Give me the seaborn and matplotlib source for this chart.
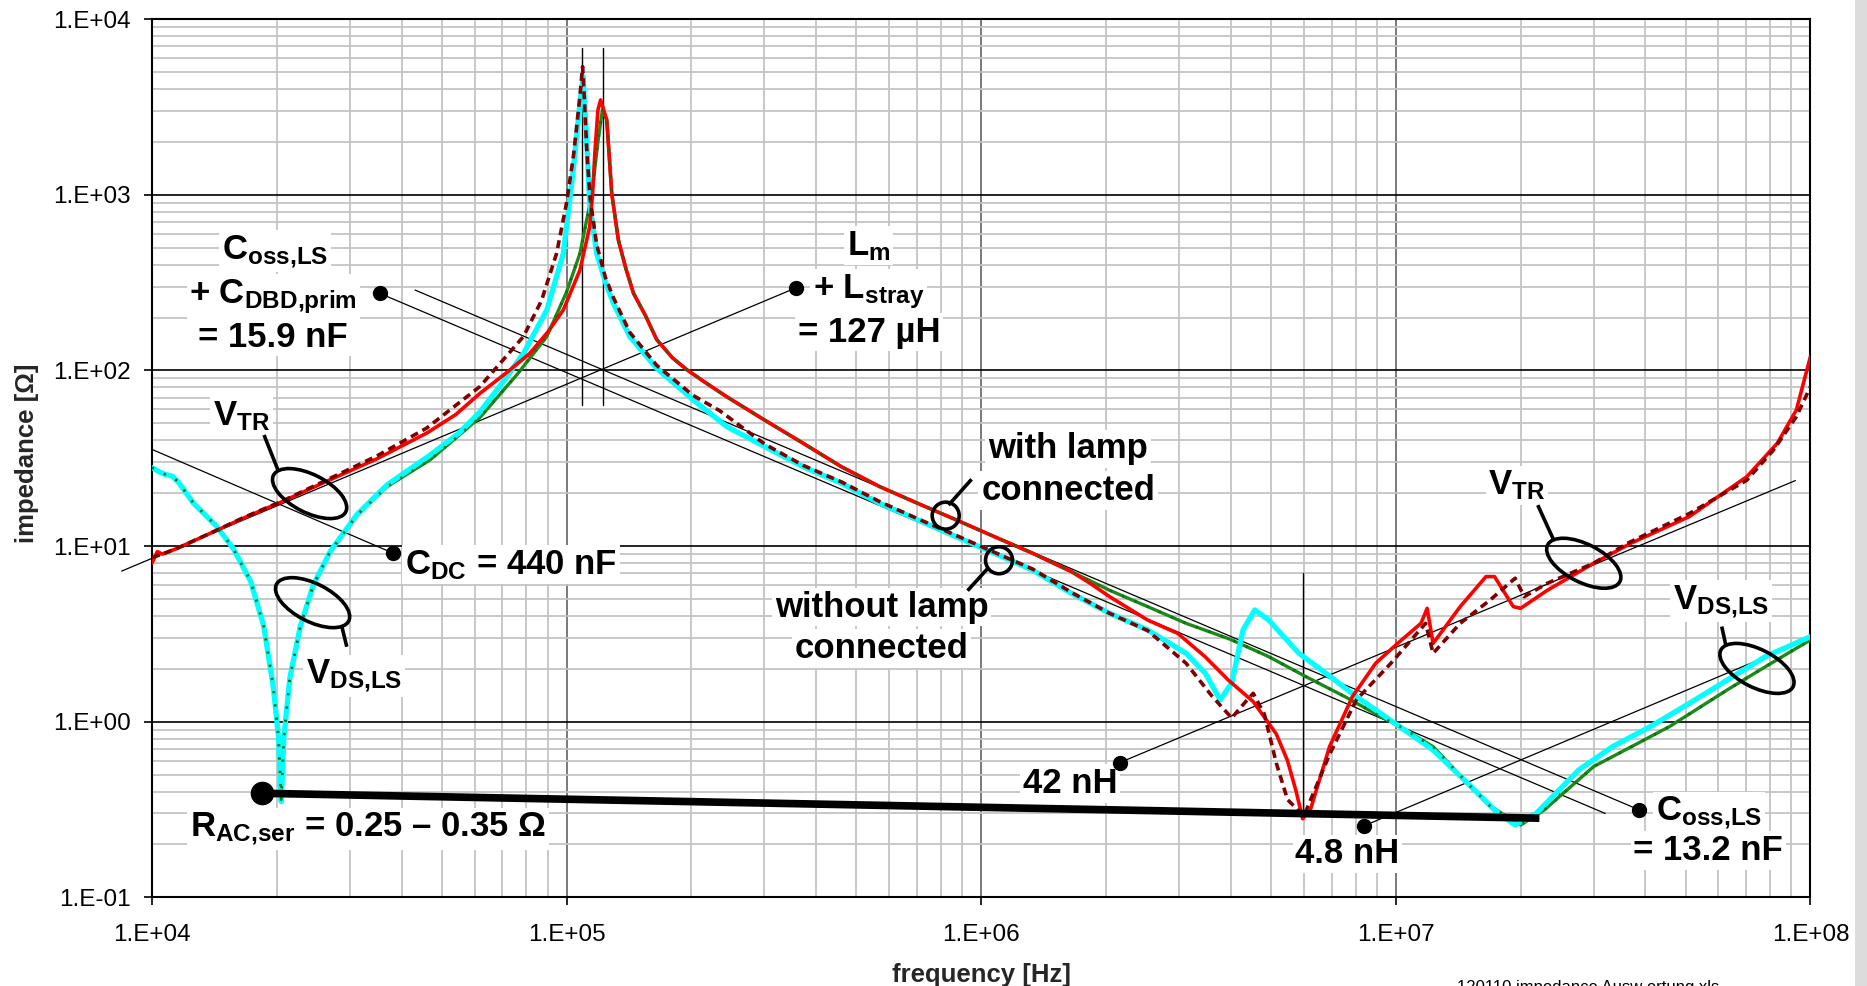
import numpy as np
import matplotlib
matplotlib.use("Agg")
import matplotlib.pyplot as plt
import matplotlib.ticker as mticker
from matplotlib.patches import Ellipse, Rectangle
from matplotlib.transforms import ScaledTranslation
import seaborn as sns

sns.set_theme(style="whitegrid")
plt.rcParams["font.family"] = ["Liberation Sans", "DejaVu Sans"]
plt.rcParams["mathtext.fontset"] = "custom"
plt.rcParams["mathtext.rm"] = "Liberation Sans"
plt.rcParams["mathtext.bf"] = "Liberation Sans:bold"
plt.rcParams["mathtext.it"] = "Liberation Sans:italic"

# --- measured impedance curves (frequency in Hz, impedance in ohm) ---
freq_cyan = [1.0e4, 1.04e4, 1.08e4, 1.12e4, 1.16e4, 1.26e4, 1.43e4, 1.57e4, 1.73e4, 1.86e4,
             1.96e4, 2.02e4, 2.05e4, 2.08e4, 2.15e4, 2.28e4, 2.45e4, 2.69e4, 3.12e4, 3.69e4,
             4.69e4, 5.5e4, 6.18e4, 7.0e4, 7.87e4, 8.96e4, 9.82e4, 1.038e5, 1.077e5, 1.096e5,
             1.117e5, 1.137e5, 1.182e5, 1.24e5, 1.297e5, 1.42e5, 1.649e5, 2.02e5, 2.43e5, 3.01e5,
             3.72e5, 4.6e5, 5.69e5, 7.03e5, 8.7e5, 1.077e6, 1.33e6, 1.65e6, 2.04e6, 2.52e6,
             3.12e6, 3.47e6, 3.77e6, 4.02e6, 4.28e6, 4.57e6, 4.93e6, 5.84e6, 6.77e6, 8.03e6,
             9.94e6, 1.23e7, 1.49e7, 1.73e7, 1.94e7, 2.18e7, 2.43e7, 2.76e7, 3.33e7, 4.12e7,
             5.1e7, 6.31e7, 7.8e7, 1.0e8]
z_cyan = [28, 26.5, 25.5, 25, 23, 17.5, 13.0, 9.7, 6.3, 3.5,
          1.6, 0.81, 0.35, 0.81, 1.77, 3.5, 6.0, 9.3, 15.1, 22.3,
          33, 44, 58, 85, 125, 221, 464, 1387, 3310, 4710,
          2143, 895, 464, 320, 241, 156, 103, 68, 48, 36.8,
          28.3, 22.8, 17.5, 14.1, 11.3, 9.1, 7.3, 5.38, 4.14, 3.33,
          2.45, 1.89, 1.33, 1.66, 3.33, 4.33, 3.8, 2.45, 1.89, 1.39,
          0.98, 0.69, 0.446, 0.314, 0.258, 0.30, 0.39, 0.53, 0.72, 0.94,
          1.27, 1.73, 2.35, 3.05]

freq_green = [1.0e4, 1.04e4, 1.08e4, 1.12e4, 1.16e4, 1.26e4, 1.43e4, 1.57e4, 1.73e4, 1.86e4,
              1.96e4, 2.02e4, 2.05e4, 2.08e4, 2.15e4, 2.28e4, 2.45e4, 2.69e4, 3.12e4, 3.69e4,
              4.69e4, 6.18e4, 7.6e4, 8.96e4, 1.0e5, 1.077e5, 1.15e5, 1.19e5, 1.22e5, 1.25e5,
              1.285e5, 1.333e5, 1.39e5, 1.45e5, 1.55e5, 1.649e5, 1.8e5, 1.95e5, 2.15e5, 2.43e5,
              3.01e5, 3.72e5, 4.6e5, 5.69e5, 7.03e5, 8.7e5, 1.077e6, 1.33e6, 1.65e6, 2.04e6,
              2.52e6, 3.12e6, 3.98e6, 4.93e6, 6.08e6, 7.53e6, 9.31e6, 1.0e7, 1.23e7, 1.49e7,
              1.69e7, 2.0e7, 2.28e7, 2.7e7, 3.0e7, 3.7e7, 4.58e7, 6.31e7, 7.8e7, 1.0e8]
z_green = [28, 26.5, 25.5, 25, 23, 17.5, 13.0, 9.7, 6.3, 3.5,
           1.6, 0.81, 0.36, 0.81, 1.77, 3.5, 6.0, 9.3, 15.0, 21.8,
           31, 54, 95, 156, 280, 464, 1000, 2000, 3040, 2673,
           1020, 553, 380, 275, 205, 150, 118, 101, 86, 71,
           52, 38.5, 28.3, 21.8, 17.5, 14.1, 11.3, 9.1, 7.15, 5.6,
           4.52, 3.63, 2.95, 2.35, 1.80, 1.39, 1.05, 0.97, 0.72, 0.446,
           0.33, 0.258, 0.314, 0.446, 0.555, 0.72, 0.94, 1.52, 2.06, 2.92]

freq_red = [1.0e4, 1.03e4, 1.06e4, 1.15e4, 1.38e4, 1.66e4, 2.06e4, 2.64e4, 3.48e4, 4.6e4,
            5.4e4, 6.18e4, 7.2e4, 8.15e4, 9.0e4, 9.82e4, 1.077e5, 1.137e5, 1.155e5, 1.17e5,
            1.19e5, 1.208e5, 1.25e5, 1.285e5, 1.333e5, 1.39e5, 1.45e5, 1.55e5, 1.649e5, 1.8e5,
            1.95e5, 2.15e5, 2.43e5, 3.01e5, 3.72e5, 4.6e5, 5.69e5, 7.03e5, 8.7e5, 1.077e6,
            1.33e6, 1.65e6, 1.83e6, 2.04e6, 2.52e6, 2.98e6, 3.47e6, 3.94e6, 4.53e6, 5.15e6,
            5.48e6, 5.75e6, 5.96e6, 6.22e6, 6.92e6, 7.86e6, 8.94e6, 1.01e7, 1.15e7, 1.19e7,
            1.23e7, 1.43e7, 1.65e7, 1.73e7, 1.92e7, 2.0e7, 2.32e7, 3.0e7, 3.7e7, 5.1e7,
            7.02e7, 8.32e7, 9.25e7, 1.0e8]
z_red = [8.0, 9.3, 9.0, 9.7, 11.8, 14.4, 17.9, 23.4, 31.3, 44,
         56, 74, 98, 125, 165, 221, 373, 659, 1000, 1726,
         3040, 3470, 2673, 1020, 553, 380, 275, 205, 150, 118,
         101, 86, 71, 52, 38.5, 28.3, 21.8, 17.5, 14.1, 11.3,
         9.1, 7.15, 6.14, 5.15, 3.79, 3.18, 2.34, 1.73, 1.3, 0.85,
         0.6, 0.4, 0.28, 0.314, 0.72, 1.39, 2.15, 2.79, 3.63, 4.42,
         2.79, 4.52, 6.7, 6.7, 4.52, 4.42, 5.6, 7.98, 10.4, 14.7,
         24.8, 38.5, 59.6, 120]

freq_dred = [1.0e4, 1.06e4, 1.15e4, 1.38e4, 1.66e4, 2.06e4, 2.64e4, 3.48e4, 4.6e4, 6.18e4,
             7.87e4, 8.7e4, 9.46e4, 1.0e5, 1.04e5, 1.075e5, 1.093e5, 1.105e5, 1.12e5, 1.14e5,
             1.182e5, 1.24e5, 1.297e5, 1.42e5, 1.649e5, 2.02e5, 2.34e5, 3.01e5, 3.72e5, 4.6e5,
             5.69e5, 7.03e5, 8.7e5, 1.077e6, 1.33e6, 1.65e6, 2.04e6, 2.52e6, 3.12e6, 3.61e6,
             4.02e6, 4.38e6, 4.53e6, 4.82e6, 5.15e6, 5.48e6, 6.0e6, 6.92e6, 8.03e6, 9.73e6,
             1.18e7, 1.23e7, 1.43e7, 1.69e7, 1.94e7, 2.04e7, 2.32e7, 3.0e7, 3.63e7, 5.1e7,
             7.02e7, 8.15e7, 9.25e7, 1.0e8]
z_dred = [8.6, 9.0, 9.7, 11.8, 14.5, 18.0, 23.8, 32.5, 47, 81,
          156, 250, 464, 900, 1700, 3500, 5370, 3300, 1700, 950,
          520, 340, 260, 165, 107, 72, 59, 38, 28.8, 23.2,
          17.9, 14.3, 11.5, 9.2, 7.4, 5.45, 4.14, 3.3, 2.15, 1.39,
          1.05, 1.33, 1.45, 1.1, 0.58, 0.36, 0.29, 0.65, 1.33, 2.15,
          3.63, 2.45, 3.63, 4.94, 6.56, 5.15, 6.14, 7.98, 10.4, 15.3,
          23.7, 35.3, 54.6, 80.7]

# --- fitted asymptotes (end points) ---
cdc_f, cdc_z = [1.0e4, 3.82e4], [35.5, 9.1]             # C_DC = 440 nF
lm_f, lm_z = [8.45e3, 3.57e5], [7.2, 295]                 # Lm + Lstray = 127 uH
c159_f, c159_z = [3.54e4, 3.2e7], [275, 0.30]            # 15.9 nF
c132_f, c132_z = [4.31e4, 3.87e7], [287, 0.314]          # 13.2 nF
l42_f, l42_z = [2.16e6, 9.2e7], [0.585, 23.6]            # 42 nH
l48_f, l48_z = [8.38e6, 1.0e8], [0.255, 2.99]            # 4.8 nH
rac_f, rac_z = [1.84e4, 2.22e7], [0.391, 0.282]          # R_AC,ser
res_f = [1.092e5, 1.224e5, 5.96e6]
res_zlo = [63.7, 63.7, 0.288]
res_zhi = [6840, 6840, 7.0]
dot_f = [3.54e4, 3.57e5, 3.82e4, 2.16e6, 8.38e6, 3.87e7]
dot_z = [275, 295, 9.1, 0.585, 0.255, 0.314]

fig = plt.figure(figsize=(18.67, 9.86), dpi=100)
ax = fig.add_axes([0.0814, 0.0900, 0.8883, 0.8905])
ax.set_xscale("log")
ax.set_yscale("log")

# asymptotes
for fx, zy in [(cdc_f, cdc_z), (lm_f, lm_z), (c159_f, c159_z), (c132_f, c132_z),
               (l42_f, l42_z), (l48_f, l48_z)]:
    ax.plot(fx, zy, color="black", lw=0.9, zorder=3, clip_on=False)
for fr, lo, hi in zip(res_f, res_zlo, res_zhi):
    ax.plot([fr, fr], [lo, hi], color="black", lw=1.0, zorder=3)

# measured curves
kw = dict(ax=ax, estimator=None, sort=False)
sns.lineplot(x=freq_green, y=z_green, color="#1a8a1a", lw=2.4, zorder=4, **kw)
sns.lineplot(x=freq_cyan, y=z_cyan, color="#00ffff", lw=3.8, zorder=5, **kw)
sns.lineplot(x=freq_red, y=z_red, color="#ff0000", lw=2.6, zorder=6, **kw)
sns.lineplot(x=freq_dred, y=z_dred, color="#800000", lw=2.6, linestyle=(0, (2.2, 1.4)), zorder=7, **kw)
sns.lineplot(x=freq_green, y=z_green, color="#0f6e0f", lw=2.0, linestyle=(0, (0.8, 4)), zorder=8, **kw)

# R_AC,ser line and dots
ax.plot(rac_f, rac_z, color="black", lw=5.5, solid_capstyle="butt", zorder=9)
ax.plot(rac_f[:1], rac_z[:1], "o", color="black", ms=16, zorder=9)
ax.plot(dot_f, dot_z, "o", color="black", ms=10, zorder=9, lw=0)

# rings around curves
def ring(fc, zc, w, h, ang):
    t = fig.dpi_scale_trans + ScaledTranslation(fc, zc, ax.transData)
    ax.add_artist(Ellipse((0, 0), w, h, angle=ang, transform=t, fill=False,
                          ec="black", lw=2.6, zorder=10))

ring(2.40e4, 19.9, 0.81, 0.38, -27)
ring(2.44e4, 4.76, 0.81, 0.38, -27)
ring(2.84e7, 7.98, 0.81, 0.38, -27)
ring(7.43e7, 2.01, 0.81, 0.38, -27)
ring(8.21e5, 14.9, 0.27, 0.27, 0)
ring(1.104e6, 8.30, 0.27, 0.27, 0)

leaders = [([1.863e4, 2.013e4], [42.9, 27.1]),
           ([2.87e4, 2.95e4], [3.49, 2.67]),
           ([9.48e5, 8.34e5], [24.0, 17.1]),
           ([1.043e6, 9.27e5], [7.57, 5.57]),
           ([2.20e7, 2.40e7], [17.1, 10.9]),
           ([6.11e7, 6.25e7], [3.48, 2.73])]
for fx, zy in leaders:
    ax.plot(fx, zy, color="black", lw=2.6, zorder=10, solid_capstyle="butt")

# annotation texts (centre x, baseline)
notes = [
    (r"$\mathbf{C_{oss{,}LS}}$", 1.98e4, 435),
    (r"+ $\mathbf{C_{DBD{,}prim}}$", 1.963e4, 241.5),
    ("= 15.9 nF", 1.96e4, 136.6),
    (r"$\mathbf{L_m}$", 5.36e5, 454.7),
    (r"+ $\mathbf{L_{stray}}$", 5.36e5, 257.8),
    ("= 127 µH", 5.36e5, 145.9),
    (r"$\mathbf{C_{DC}}$ = 440 nF", 7.34e4, 6.94),
    (r"$\mathbf{R_{AC{,}ser}}$ = 0.25 – 0.35 Ω", 3.32e4, 0.2234),
    ("with lamp", 1.62e6, 31.6),
    ("connected", 1.62e6, 18.3),
    ("without lamp", 5.75e5, 3.96),
    ("connected", 5.75e5, 2.30),
    ("42 nH", 1.638e6, 0.391),
    ("4.8 nH", 7.65e6, 0.156),
    (r"$\mathbf{C_{oss{,}LS}}$", 5.69e7, 0.2754),
    ("= 13.2 nF", 5.67e7, 0.163),
    (r"$\mathbf{V_{TR}}$", 1.646e4, 48.8),
    (r"$\mathbf{V_{DS{,}LS}}$", 3.07e4, 1.665),
    (r"$\mathbf{V_{TR}}$", 1.96e7, 19.7),
    (r"$\mathbf{V_{DS{,}LS}}$", 6.09e7, 4.42),
]
for s, fx, zy in notes:
    ax.text(fx, zy, s, ha="center", va="baseline", fontsize=25, fontweight="bold",
            color="black", zorder=2.5,
            bbox=dict(facecolor="white", edgecolor="none", pad=2))

# axes, ticks and grid
ax.set_xlim(1e4, 1e8)
ax.set_ylim(0.1, 1e4)
fmt = mticker.FuncFormatter(lambda v, _: f"1.E{int(round(np.log10(v))):+03d}")
for axis in (ax.xaxis, ax.yaxis):
    axis.set_major_locator(mticker.LogLocator(base=10, numticks=20))
    axis.set_minor_locator(mticker.LogLocator(base=10, subs=np.arange(2, 10), numticks=20))
    axis.set_major_formatter(fmt)
    axis.set_minor_formatter(mticker.NullFormatter())

ax.grid(False)
ax.grid(True, which="minor", color="#c4c4c4", lw=1.3)
ax.xaxis.grid(True, which="major", color="#555555", lw=1.1)
ax.yaxis.grid(True, which="major", color="black", lw=1.2)
ax.set_axisbelow(True)
ax.tick_params(which="major", bottom=True, left=True, direction="out", length=6,
               width=1.2, color="black", labelsize=17.5, labelcolor="black")
ax.tick_params(axis="x", which="major", pad=13)
ax.tick_params(axis="y", which="major", pad=9)
ax.tick_params(which="minor", length=0)
for sp in ax.spines.values():
    sp.set_visible(True)
    sp.set_color("black")
    sp.set_linewidth(1.5)

ax.text(0.5, -0.0752, "frequency [Hz]", transform=ax.transAxes, ha="center", va="top",
        fontsize=18.5, fontweight="bold")
ax.text(-0.0754, 0.506, "impedance [Ω]", transform=ax.transAxes, rotation=90,
        ha="center", va="center", fontsize=18.5, fontweight="bold")

fig.add_artist(Rectangle((1855 / 1867, 0), 12 / 1867, 1, transform=fig.transFigure,
                         facecolor="#dcdcdc", edgecolor="none"))
# file name footer, cut by the lower edge as in the original export
fig.text(1457 / 1867, 1 - 980 / 986, "120110 impedance Ausw ertung.xls", ha="left", va="top",
         fontsize=12, color="black")

fig.savefig("out.png", dpi=100)
